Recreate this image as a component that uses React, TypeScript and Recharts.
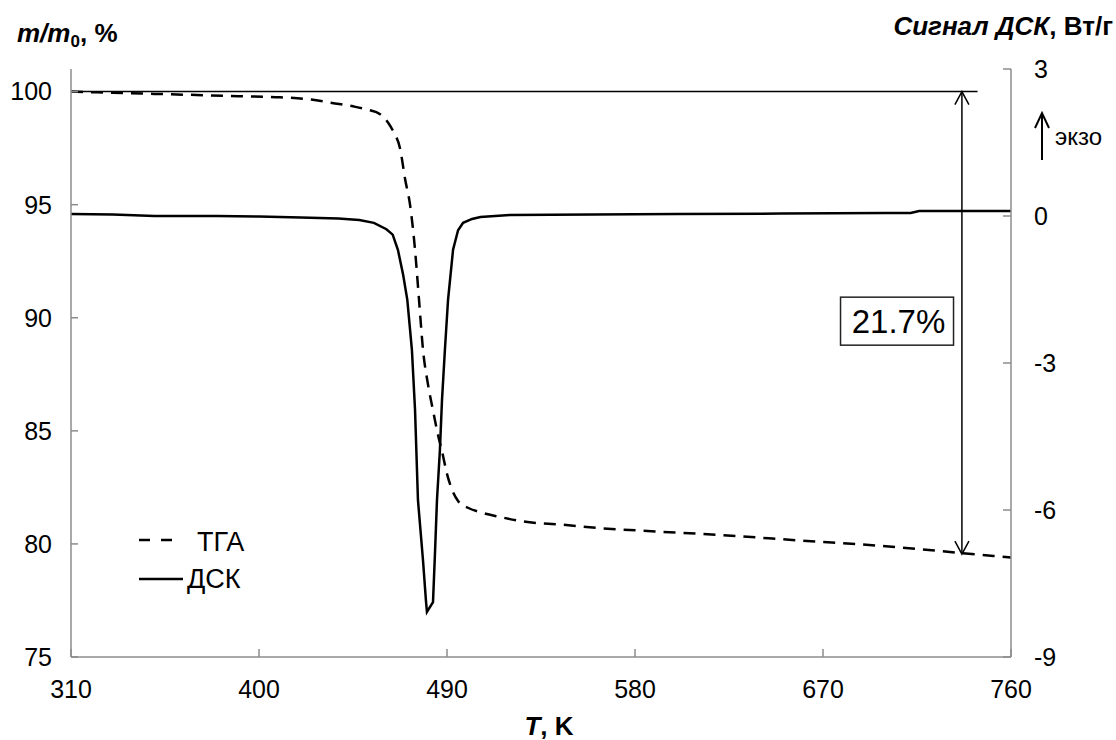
import React from "react";
import {
  ComposedChart,
  Line,
  XAxis,
  YAxis,
  ReferenceLine,
  ReferenceDot,
} from "recharts";

const FONT = '"Liberation Sans", Arial, Helvetica, sans-serif';
const AXIS_GREY = "#8c8c8c";

// TGA curve (m/m0, %) vs T, K
const tgaTemp = [
  310, 330, 350, 370, 390, 410, 425, 435, 445, 452, 458, 462, 464.5, 467.5,
  470, 472.3, 474.7, 476.6, 478.5, 481, 483.3, 485.5, 487.6, 490, 492.4,
  495.3, 500, 506, 515, 526, 545, 563, 590, 620, 659, 700, 736, 760,
];
const tgaMass = [
  100.0, 99.95, 99.9, 99.85, 99.8, 99.75, 99.65, 99.5, 99.35, 99.2, 99.0,
  98.6, 98.2, 97.5, 96.1, 95.0, 93.0, 90.8, 88.6, 87.0, 85.9, 84.9, 84.1,
  83.1, 82.4, 81.9, 81.6, 81.4, 81.2, 81.0, 80.85, 80.7, 80.55, 80.4, 80.15,
  79.9, 79.6, 79.4,
];

// DSC signal, W/g vs T, K
const dscTemp = [
  310, 330, 350, 380, 400, 420, 438, 448, 455, 461, 464, 466.5, 469, 471,
  473.2, 474.7, 476.1, 478.5, 479.9, 480.4, 483.3, 484.3, 485.2, 486.6, 487.6,
  489, 490.5, 492.9, 495.3, 497.7, 502, 506, 520, 560, 600, 650, 700, 712,
  716, 760,
];
const dscSignal = [
  0.04, 0.03, 0.0, 0.0, -0.01, -0.03, -0.05, -0.08, -0.14, -0.27, -0.38,
  -0.69, -1.2, -1.71, -2.73, -3.96, -5.8, -7.02, -7.84, -8.08, -7.88, -6.82,
  -5.8, -4.78, -3.76, -2.73, -1.71, -0.69, -0.29, -0.14, -0.06, -0.02, 0.02,
  0.03, 0.04, 0.05, 0.06, 0.06, 0.1, 0.1,
];

const tempTicks = [310, 400, 490, 580, 670, 760];
const massTicks = [75, 80, 85, 90, 95, 100];
const dscTicks = [-9, -6, -3, 0, 3];

// annotation: mass loss arrow
const lossTemp = 736.5;
const lossFrom = 100;
const lossTo = 79.55;
const lossLabel = "21.7%";
const baselineEnd = 744;

const tga = tgaTemp.map((t, i) => ({ t, m: tgaMass[i] }));
const dsc = dscTemp.map((t, i) => ({ t, q: dscSignal[i] }));

const tickStyle = { fill: "#000", fontSize: 25, fontFamily: FONT };

function DoubleArrow(props: any) {
  const { x1, y1, y2 } = props;
  const top = Math.min(y1, y2);
  const bot = Math.max(y1, y2);
  return (
    <g stroke="#000" strokeWidth={1.5} fill="none">
      <line x1={x1} y1={top} x2={x1} y2={bot} />
      <polyline points={`${x1 - 7},${top + 13} ${x1},${top} ${x1 + 7},${top + 13}`} />
      <polyline points={`${x1 - 7},${bot - 13} ${x1},${bot} ${x1 + 7},${bot - 13}`} />
    </g>
  );
}

function LossBox(props: any) {
  const { cx, cy } = props;
  return (
    <g>
      <rect
        x={cx - 56}
        y={cy - 24}
        width={113}
        height={48}
        fill="#fff"
        stroke="#222"
        strokeWidth={1.5}
      />
      <text
        x={cx + 2}
        y={cy + 12}
        textAnchor="middle"
        fontSize={33}
        fontFamily={FONT}
        fill="#000"
      >
        {lossLabel}
      </text>
    </g>
  );
}

export default function App() {
  return (
    <div
      style={{
        position: "absolute",
        left: 0,
        top: 0,
        width: 1116,
        height: 740,
        background: "#fff",
        fontFamily: FONT,
      }}
    >
      <ComposedChart
        width={1116}
        height={740}
        margin={{ top: 69, right: 25, bottom: 33, left: 1 }}
      >
        <XAxis
          type="number"
          dataKey="t"
          domain={[310, 760]}
          ticks={tempTicks}
          stroke={AXIS_GREY}
          strokeWidth={1.5}
          tickSize={-8}
          tickMargin={31}
          tick={tickStyle}
          height={50}
        />
        <YAxis
          yAxisId="mass"
          orientation="left"
          domain={[75, 101]}
          ticks={massTicks}
          stroke={AXIS_GREY}
          strokeWidth={1.5}
          tickSize={-7}
          tickMargin={26}
          tick={tickStyle}
          width={70}
        />
        <YAxis
          yAxisId="dsc"
          orientation="right"
          domain={[-9, 3]}
          ticks={dscTicks}
          stroke={AXIS_GREY}
          strokeWidth={1.5}
          tickSize={-8}
          tickMargin={31}
          tick={tickStyle}
          width={80}
        />
        <ReferenceLine
          yAxisId="mass"
          segment={[
            { x: 310, y: 100 },
            { x: baselineEnd, y: 100 },
          ]}
          stroke="#000"
          strokeWidth={1.5}
        />
        <Line
          yAxisId="dsc"
          data={dsc}
          dataKey="q"
          type="linear"
          stroke="#000"
          strokeWidth={2.5}
          dot={false}
          isAnimationActive={false}
        />
        <Line
          yAxisId="mass"
          data={tga}
          dataKey="m"
          type="monotone"
          stroke="#000"
          strokeWidth={2.5}
          strokeDasharray="12 8"
          dot={false}
          isAnimationActive={false}
        />
        <ReferenceLine
          yAxisId="mass"
          segment={[
            { x: lossTemp, y: lossFrom },
            { x: lossTemp, y: lossTo },
          ]}
          shape={DoubleArrow}
        />
        <ReferenceDot
          yAxisId="mass"
          x={705.2}
          y={89.85}
          r={1}
          shape={LossBox}
        />
      </ComposedChart>

      <svg
        width={1116}
        height={740}
        style={{ position: "absolute", left: 0, top: 0, pointerEvents: "none" }}
        fontFamily={FONT}
      >
        {/* left axis title */}
        <text x={17} y={42} fontSize={26} fontWeight="bold" fill="#000">
          <tspan fontStyle="italic">m/m</tspan>
          <tspan fontSize={17} dy={5}>0</tspan>
          <tspan dy={-5}>, %</tspan>
        </text>
        {/* right axis title */}
        <text x={1113} y={35} fontSize={26} fontWeight="bold" textAnchor="end" fill="#000">
          <tspan fontStyle="italic">Сигнал ДСК</tspan>
          <tspan>, Вт/г</tspan>
        </text>
        {/* x axis title */}
        <text x={549} y={735} fontSize={26} fontWeight="bold" textAnchor="middle" fill="#000">
          <tspan fontStyle="italic">T</tspan>
          <tspan>, K</tspan>
        </text>
        {/* exo arrow */}
        <g stroke="#000" strokeWidth={2} fill="none">
          <line x1={1042} y1={160} x2={1042} y2={114} />
          <polyline points="1035,128 1042,113 1049,128" />
        </g>
        <text x={1055} y={145} fontSize={24} fill="#000">
          экзо
        </text>
        {/* legend */}
        <line x1={139} y1={540} x2={183} y2={540} stroke="#000" strokeWidth={2.5} strokeDasharray="11 11" />
        <text x={197} y={551} fontSize={27} fill="#000">
          ТГА
        </text>
        <line x1={139} y1={579} x2={183} y2={579} stroke="#000" strokeWidth={2.5} />
        <text x={187} y={588} fontSize={27} fill="#000">
          ДСК
        </text>
      </svg>
    </div>
  );
}
